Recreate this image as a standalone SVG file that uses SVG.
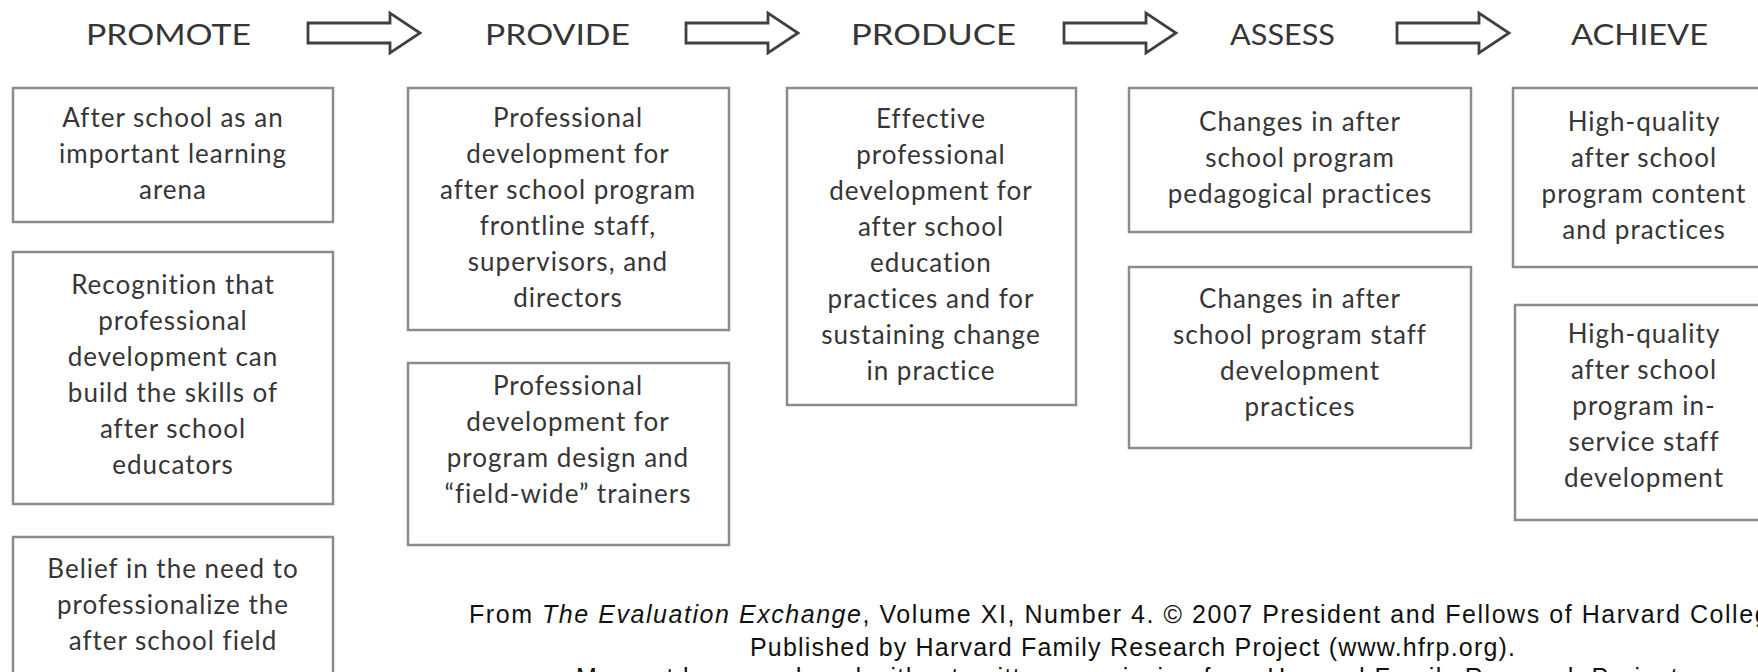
<svg xmlns="http://www.w3.org/2000/svg" width="1758" height="672" viewBox="0 0 1758 672">
  <style>
    .box { fill: #ffffff; stroke: #8c8c8c; stroke-width: 2.5; }
    .t { font-family: Lato, "Open Sans", "DejaVu Sans", sans-serif; font-size: 26px; letter-spacing: 1px; fill: #363636; text-anchor: middle; }
    .h { font-family: Lato, "Open Sans", "DejaVu Sans", sans-serif; font-size: 28px; fill: #363636; }
    .arrow { fill: #ffffff; stroke: #404040; stroke-width: 2.8; stroke-linejoin: miter; }
    .foot { font-family: "Liberation Sans", Arial, sans-serif; font-size: 25px; fill: #111111; }
  </style>
  <defs>
    <path id="blockArrow" class="arrow" d="M0,-10 H82 V-20 L112,0 L82,20 V10 H0 Z"/>
  </defs>
  <rect width="1758" height="672" fill="#ffffff"/>

  <g id="headers">
    <text id="h-promote" class="h" x="86" y="45" textLength="165" lengthAdjust="spacingAndGlyphs">PROMOTE</text>
    <text id="h-provide" class="h" x="485" y="45" textLength="145" lengthAdjust="spacingAndGlyphs">PROVIDE</text>
    <text id="h-produce" class="h" x="851" y="45" textLength="165" lengthAdjust="spacingAndGlyphs">PRODUCE</text>
    <text id="h-assess" class="h" x="1230" y="45" textLength="105" lengthAdjust="spacingAndGlyphs">ASSESS</text>
    <text id="h-achieve" class="h" x="1571" y="45" textLength="137" lengthAdjust="spacingAndGlyphs">ACHIEVE</text>
  </g>

  <g id="connectors">
    <use href="#blockArrow" x="308" y="33"/>
    <use href="#blockArrow" x="686" y="33"/>
    <use href="#blockArrow" x="1064" y="33"/>
    <use href="#blockArrow" x="1397" y="33"/>
  </g>

  <g id="promote-1">
    <rect class="box" x="13" y="88" width="320" height="134"/>
    <text class="t" x="173" y="127">After school as an</text>
    <text class="t" x="173" y="163">important learning</text>
    <text class="t" x="173" y="199">arena</text>
  </g>
  <g id="promote-2">
    <rect class="box" x="13" y="252" width="320" height="252"/>
    <text class="t" x="173" y="294">Recognition that</text>
    <text class="t" x="173" y="330">professional</text>
    <text class="t" x="173" y="366">development can</text>
    <text class="t" x="173" y="402">build the skills of</text>
    <text class="t" x="173" y="438">after school</text>
    <text class="t" x="173" y="474">educators</text>
  </g>
  <g id="promote-3">
    <rect class="box" x="13" y="537" width="320" height="160"/>
    <text class="t" x="173" y="578">Belief in the need to</text>
    <text class="t" x="173" y="614">professionalize the</text>
    <text class="t" x="173" y="650">after school field</text>
  </g>

  <g id="provide-1">
    <rect class="box" x="408" y="88" width="321" height="242"/>
    <text class="t" x="568" y="127">Professional</text>
    <text class="t" x="568" y="163">development for</text>
    <text class="t" x="568" y="199">after school program</text>
    <text class="t" x="568" y="235">frontline staff,</text>
    <text class="t" x="568" y="271">supervisors, and</text>
    <text class="t" x="568" y="307">directors</text>
  </g>
  <g id="provide-2">
    <rect class="box" x="408" y="363" width="321" height="182"/>
    <text class="t" x="568" y="395">Professional</text>
    <text class="t" x="568" y="431">development for</text>
    <text class="t" x="568" y="467">program design and</text>
    <text class="t" x="568" y="503">“field-wide” trainers</text>
  </g>

  <g id="produce-1">
    <rect class="box" x="787" y="88" width="289" height="317"/>
    <text class="t" x="931" y="128">Effective</text>
    <text class="t" x="931" y="164">professional</text>
    <text class="t" x="931" y="200">development for</text>
    <text class="t" x="931" y="236">after school</text>
    <text class="t" x="931" y="272">education</text>
    <text class="t" x="931" y="308">practices and for</text>
    <text class="t" x="931" y="344">sustaining change</text>
    <text class="t" x="931" y="380">in practice</text>
  </g>

  <g id="assess-1">
    <rect class="box" x="1129" y="88" width="342" height="144"/>
    <text class="t" x="1300" y="131">Changes in after</text>
    <text class="t" x="1300" y="167">school program</text>
    <text class="t" x="1300" y="203">pedagogical practices</text>
  </g>
  <g id="assess-2">
    <rect class="box" x="1129" y="267" width="342" height="181"/>
    <text class="t" x="1300" y="308">Changes in after</text>
    <text class="t" x="1300" y="344">school program staff</text>
    <text class="t" x="1300" y="380">development</text>
    <text class="t" x="1300" y="416">practices</text>
  </g>

  <g id="achieve-1">
    <rect class="box" x="1513" y="88" width="280" height="179"/>
    <text class="t" x="1644" y="131">High-quality</text>
    <text class="t" x="1644" y="167">after school</text>
    <text class="t" x="1644" y="203">program content</text>
    <text class="t" x="1644" y="239">and practices</text>
  </g>
  <g id="achieve-2">
    <rect class="box" x="1515" y="305" width="280" height="215"/>
    <text class="t" x="1644" y="343">High-quality</text>
    <text class="t" x="1644" y="379">after school</text>
    <text class="t" x="1644" y="415">program in-</text>
    <text class="t" x="1644" y="451">service staff</text>
    <text class="t" x="1644" y="487">development</text>
  </g>

  <g id="footer">
    <text class="foot" x="469" y="623" textLength="1315" lengthAdjust="spacing">From <tspan font-style="italic">The Evaluation Exchange</tspan>, Volume XI, Number 4. © 2007 President and Fellows of Harvard College</text>
    <text class="foot" x="750" y="656" textLength="765" lengthAdjust="spacing">Published by Harvard Family Research Project (www.hfrp.org).</text>
    <text class="foot" x="576" y="686" textLength="1110" lengthAdjust="spacing">May not be reproduced without written permission from Harvard Family Research Project.</text>
  </g>
</svg>
